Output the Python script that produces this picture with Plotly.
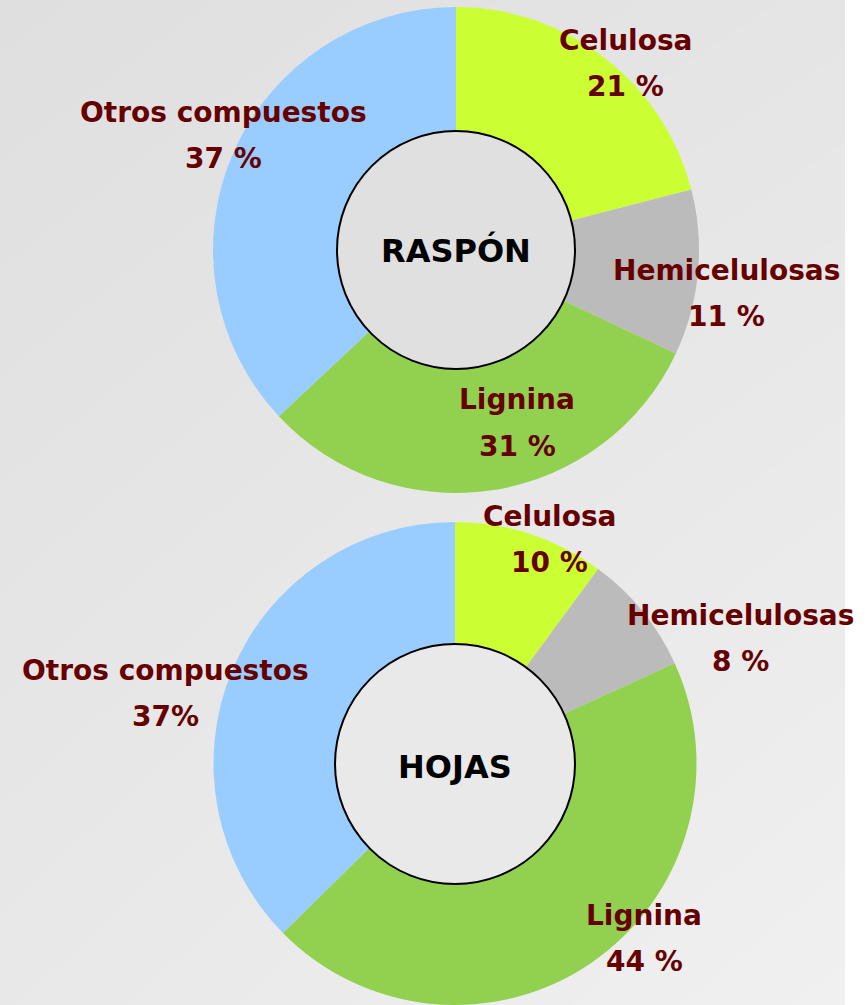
import plotly.graph_objects as go

W, H = 865, 1005

categories = ["Celulosa", "Hemicelulosas", "Lignina", "Otros compuestos"]
raspon_values = [21, 11, 31, 37]
hojas_values = [10, 8, 44, 37]
raspon_pct_text = ["21 %", "11 %", "31 %", "37 %"]
hojas_pct_text = ["10 %", "8 %", "44 %", "37%"]
center_titles = ["RASPÓN", "HOJAS"]
slice_colors = ["#ccff33", "#bbbbbb", "#92d050", "#99ccff"]

LABEL_COLOR = "#660000"
FONT = "DejaVu Sans"


def px(x):
    return x / W


def py(y):
    return 1 - y / H


fig = go.Figure()

# background gradient (light grey, lighter towards bottom-right)
fig.add_trace(go.Heatmap(
    z=[[0.55, 1.0], [0.0, 0.35]], x=[0, 1], y=[0, 1],
    zsmooth="best", showscale=False, hoverinfo="skip",
    colorscale=[[0, "#dfdfdf"], [1, "#f0f0f0"]],
    xaxis="x", yaxis="y",
))

pies = [
    dict(values=raspon_values, dom_x=[213, 699], dom_y=[7, 493], hole=0.49),
    dict(values=hojas_values, dom_x=[211, 699], dom_y=[522, 1005], hole=0.497),
]
for p in pies:
    fig.add_trace(go.Pie(
        labels=categories, values=p["values"], sort=False,
        direction="clockwise", rotation=0, hole=p["hole"],
        marker=dict(colors=slice_colors, line=dict(width=0)),
        textinfo="none", hoverinfo="label+percent", showlegend=False,
        domain=dict(x=[px(p["dom_x"][0]), px(p["dom_x"][1])],
                    y=[py(p["dom_y"][1]), py(p["dom_y"][0])]),
    ))

shapes = []
# hole outline circles
for (cx, cy, r, fill) in [(456, 250, 119, "#e0e0e0"), (455, 764, 120, "#e9e9e9")]:
    shapes.append(dict(type="circle", xref="paper", yref="paper",
                       x0=px(cx - r), x1=px(cx + r), y0=py(cy + r), y1=py(cy - r),
                       fillcolor=fill, line=dict(color="black", width=2),
                       layer="above"))
# white strip at right edge
shapes.append(dict(type="rect", xref="paper", yref="paper",
                   x0=px(845), x1=1, y0=0, y1=1, fillcolor="white",
                   line=dict(width=0), layer="above"))

annotations = []
raspon_label_pos = [(625, 40), (726, 270), (517, 400), (224, 112)]
hojas_label_pos = [(549, 516), (740, 615), (644, 915), (165, 670)]
for names, pcts, positions in [(categories, raspon_pct_text, raspon_label_pos),
                               (categories, hojas_pct_text, hojas_label_pos)]:
    for name, pct, (x, y) in zip(names, pcts, positions):
        for txt, yy in [(name, y), (pct, y + 46)]:
            annotations.append(dict(
                x=px(x), y=py(yy), xref="paper", yref="paper",
                text=f"<b>{txt}</b>", showarrow=False,
                xanchor="center", yanchor="middle",
                font=dict(family=FONT, size=28, color=LABEL_COLOR)))

for title, (x, y) in zip(center_titles, [(456, 251), (455, 767)]):
    annotations.append(dict(
        x=px(x), y=py(y), xref="paper", yref="paper",
        text=f"<b>{title}</b>", showarrow=False,
        xanchor="center", yanchor="middle",
        font=dict(family=FONT, size=32, color="black")))

fig.update_layout(
    width=W, height=H,
    margin=dict(l=0, r=0, t=0, b=0),
    paper_bgcolor="white", plot_bgcolor="white",
    xaxis=dict(domain=[0, 845 / W], range=[0, 1], visible=False, fixedrange=True),
    yaxis=dict(domain=[0, 1], range=[0, 1], visible=False, fixedrange=True),
    shapes=shapes, annotations=annotations,
    showlegend=False,
)

fig.write_html("out.html", config={"displayModeBar": False},
               post_script="document.body.style.margin='0';document.body.style.overflow='hidden';")
